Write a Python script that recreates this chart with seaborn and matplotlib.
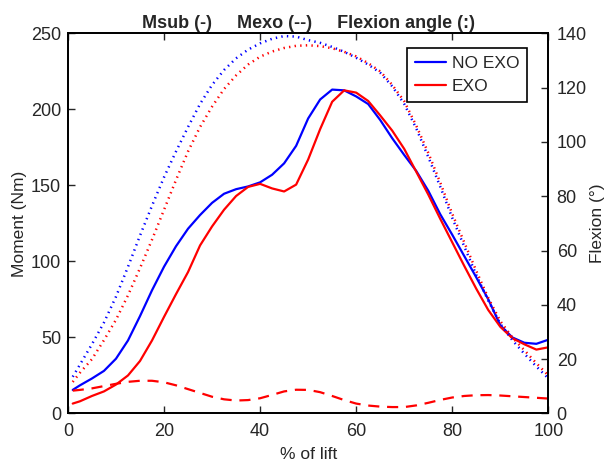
import matplotlib
matplotlib.use("Agg")
import matplotlib.pyplot as plt
import seaborn as sns

sns.set_theme(style="ticks")
plt.rcParams['font.family'] = ['Liberation Sans', 'DejaVu Sans']

# ===============================
# Data
# ===============================

# % of lift
lift = [1, 2.5, 5, 7.5, 10, 12.5, 15, 17.5, 20, 22.5, 25, 27.5, 30, 32.5, 35,
        37.5, 40, 42.5, 45, 47.5, 50, 52.5, 55, 57.5, 60, 62.5, 65, 67.5, 70,
        72.5, 75, 77.5, 80, 82.5, 85, 87.5, 90, 92.5, 95, 97.5, 100]

# Msub, NO EXO (Nm)
msub_noexo = [15.5, 18.5, 23, 28, 36, 48, 64, 81, 96.5, 110, 121.5, 130.5,
              138.5, 144.5, 147.5, 149.3, 152, 157, 164.5, 176, 194, 206.5,
              213, 212.5, 208.5, 203.5, 193, 181, 170, 159.5, 146.5, 131,
              117.5, 103.5, 89.5, 75, 58, 50, 46.5, 45.8, 48.5]

# Msub, EXO (Nm)
msub_exo = [6.5, 8, 11.5, 14.5, 19, 25, 34.5, 48, 63.5, 78.5, 93, 110.5, 123,
            134, 143, 149, 151, 148, 146, 150.5, 167, 187, 205, 212.5, 211,
            205.5, 196, 186, 174, 159, 144, 128, 112.5, 97, 82, 68, 57, 49.5,
            45.5, 42, 43.5]

# Mexo, EXO (Nm)
mexo_exo = [15, 15.5, 16.5, 18, 19.5, 20.8, 21.5, 21.5, 20.5, 18.5, 16, 13.5,
            11, 9.3, 8.5, 8.8, 10, 12.2, 14.5, 15.6, 15.5, 14, 11.5, 8.8, 6.5,
            5.2, 4.5, 4.2, 4.2, 5.3, 7, 8.9, 10.5, 11.5, 12, 12.1, 11.8, 11.3,
            10.8, 10.3, 9.8]

# Flexion angle (deg)
flex_noexo = [13.5, 18, 25.5, 33.5, 43, 54, 65.5, 76.5, 87, 96.5, 105.5, 114,
              121, 126.5, 130.8, 134, 136.3, 138, 139, 138.8, 137.5, 136.5,
              135, 133.2, 131, 128.5, 125.5, 120.5, 114, 105, 94.5, 83.5, 72,
              61.5, 51, 41.5, 33, 27, 22, 17.3, 12.9]
flex_exo = [11.6, 15, 20, 27, 34.5, 43.5, 53.5, 64, 75, 86, 96.5, 105.5, 113,
            119.5, 124.5, 128.5, 131.4, 133.3, 134.6, 135.4, 135.6, 135.3,
            134.5, 133.2, 131.5, 129, 126, 121, 115, 106, 96, 85, 73.5, 63,
            52.5, 42.5, 34, 28, 23.3, 18.5, 14]

BLUE = (0, 0, 1)
RED = (1, 0, 0)
TXT = "#262626"

# ===============================
# Plot
# ===============================

fig = plt.figure(figsize=(6.12, 4.63), dpi=100)
ax = fig.add_axes([0.111, 0.107, 0.785, 0.821])
ax2 = ax.twinx()

dots = (0, (0.55, 1.7))

# moments (left axis)
sns.lineplot(x=lift, y=msub_noexo, ax=ax, color=BLUE, lw=1.6,
             label="NO EXO", sort=False)
sns.lineplot(x=lift, y=msub_exo, ax=ax, color=RED, lw=1.6,
             label="EXO", sort=False)
sns.lineplot(x=lift, y=mexo_exo, ax=ax, color=RED, lw=1.6,
             linestyle=(0, (5, 3.5)), sort=False, legend=False)

# flexion (right axis)
sns.lineplot(x=lift, y=flex_noexo, ax=ax2, color=BLUE, lw=1.8,
             linestyle=dots, sort=False, legend=False)
sns.lineplot(x=lift, y=flex_exo, ax=ax2, color=RED, lw=1.8,
             linestyle=dots, sort=False, legend=False)

ax.set_xlim(0, 100)
ax.set_ylim(0, 250)
ax2.set_ylim(0, 140)
ax.set_xticks([0, 20, 40, 60, 80, 100])
ax.set_yticks([0, 50, 100, 150, 200, 250])
ax2.set_yticks([0, 20, 40, 60, 80, 100, 120, 140])

ax.set_xlabel("% of lift", fontsize=12.5, color=TXT, labelpad=5)
ax.set_ylabel("Moment (Nm)", fontsize=12.5, color=TXT, labelpad=3)
ax2.set_ylabel("Flexion (°)", fontsize=12.5, color=TXT, labelpad=2)
ax.set_title("Msub (-)     Mexo (--)     Flexion angle (:)",
             fontsize=13, fontweight="bold", pad=4)

ax.tick_params(axis="x", direction="in", top=True, length=5, width=1,
               labelsize=13, colors=TXT, pad=7)
ax.tick_params(axis="y", direction="in", right=False, length=5, width=1,
               labelsize=13, colors=TXT, pad=5)
ax2.tick_params(axis="y", direction="in", length=5, width=1,
                labelsize=13, colors=TXT, pad=6)

for a in (ax, ax2):
    for s in a.spines.values():
        s.set_visible(True)
        s.set_color("black")
        s.set_linewidth(1.3)

leg = ax.legend(loc="upper right", bbox_to_anchor=(0.956, 0.962),
                borderaxespad=0, fontsize=12.5, frameon=True, fancybox=False,
                handlelength=1.8, borderpad=0.45, labelspacing=0.45,
                handletextpad=0.35)
leg.get_frame().set_edgecolor("black")
leg.get_frame().set_linewidth(1.2)
leg.get_frame().set_alpha(1)

fig.savefig("out.png", dpi=100)
